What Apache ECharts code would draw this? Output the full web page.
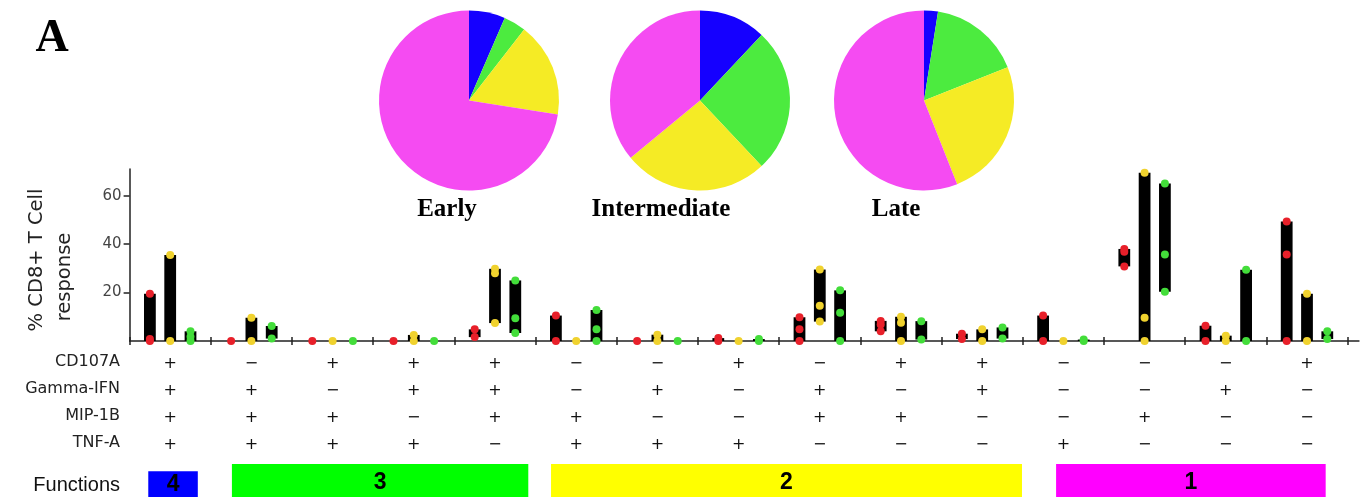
<!DOCTYPE html>
<html><head><meta charset="utf-8">
<script src="https://cdn.jsdelivr.net/npm/echarts@6/dist/echarts.min.js"></script>
<style>html,body{margin:0;padding:0;background:#fff}#c{width:1368px;height:501px}</style>
</head><body><div id="c"></div>
<script>
// ---------- data ----------
const markers = ['CD107A', 'Gamma-IFN', 'MIP-1B', 'TNF-A'];
const cd107a   = ['+','−','+','+','+','−','−','+','−','+','+','−','−','−','+'];
const gammaIFN = ['+','+','−','+','+','−','+','−','+','−','+','−','−','+','−'];
const mip1b    = ['+','+','+','−','+','+','−','−','+','+','−','−','+','−','−'];
const tnfa     = ['+','+','+','+','−','+','+','+','−','−','−','+','−','−','−'];

const timepoints = ['Early', 'Intermediate', 'Late'];
// individual responses per combination (15 combos)
const earlyDots = [[19.5,0.8,0],[0],[0],[0],[4.8,1.6],[10.5,0],[0],[1.2,0],[9.8,4.8,0],[8.3,6.8,4],[3,0.8],[10.5,0],[38,36.8,30.8],[6.3,0],[49.3,35.7,0]];
const intermediateDots = [[35.5,0],[9.6,0],[0],[2.5,0],[29.8,28,7.4],[0],[2.6,0],[0],[29.5,14.5,8],[10,7.5,0],[4.8,0],[0],[69.5,9.6,0],[2.2,0],[19.5,0]];
const lateDots = [[4,1.8,0],[6.2,1],[0],[0],[25,9.4,3.3],[12.8,4.8,0],[0],[0.8,0],[20.9,11.7,0],[8.2,0.6],[5.6,1],[0.6,0],[65,35.7,20.3],[29.4,0],[4,0.8]];

// pie fractions (4,3,2,1 functions) in percent
const pieEarly = [6.5, 4, 17, 72.5];
const pieIntermediate = [12, 26, 26, 36];
const pieLate = [2.5, 16.5, 25, 56];

const functionLabels = ['4','3','2','1'];
const functionGroups = [[0,1],[1,5],[5,11],[11,15]]; // combos covered
const yTickValues = [20, 40, 60];

// ---------- layout / style ----------
const PX_LEFT = 129.6, UNIT = 81.2, XMAX = 15.14;
const AXIS_Y = 341;
const FUNC_BOX = [[0.23,0.84,0.78],[1.26,4.91,1],[5.19,10.99,1],[11.41,14.73,1]]; // drawn extent in axis units, relative height
const funcColors = ['#0000ff','#00ff00','#ffff00','#ff00ff'];
const pieColors = ['#1500ff','#4ceb3f','#f5eb25','#f54bf2'];
const dotColors = ['#e8202a','#f0d22e','#43dd3a'];
const offsets = [-0.25, 0, 0.25];
const FONT = 'DejaVu Sans';

const signs = [cd107a, gammaIFN, mip1b, tnfa];
const tickVals = Array.from({length:16}, (_, i) => i);
const centerVals = Array.from({length:15}, (_, i) => i + 0.5);

function barSeries(dots, k) {
  const data = dots.map((d, i) => [i, Math.min(...d), Math.max(...d)]).filter(r => r[2] > r[1]);
  return {
    type: 'custom', xAxisIndex: 0, yAxisIndex: 0, silent: true, z: 2,
    data, encode: {x: 0, y: [1, 2]},
    renderItem(params, api) {
      const x = api.value(0) + 0.5 + offsets[k];
      const top = api.coord([x, api.value(2)]);
      const bot = api.coord([x, api.value(1)]);
      const w = api.size([1, 0])[0] * 0.145;
      return {type: 'rect', shape: {x: top[0] - w / 2, y: top[1], width: w, height: bot[1] - top[1]}, style: {fill: '#000'}};
    }
  };
}
function dotSeries(dots, k) {
  return {
    type: 'scatter', xAxisIndex: 0, yAxisIndex: 0, silent: true, z: 3,
    symbolSize: 8, itemStyle: {color: dotColors[k], opacity: 1},
    data: dots.flatMap((d, i) => d.map(v => [i + 0.5 + offsets[k], v]))
  };
}
function pieSeries(vals, cx) {
  return {
    type: 'pie', center: [cx, 100.5], radius: 90, silent: true, label: {show: false}, labelLine: {show: false},
    itemStyle: {borderWidth: 0}, startAngle: 90, clockwise: true,
    data: vals.map((v, j) => ({value: v, itemStyle: {color: pieColors[j]}}))
  };
}

const axisLine = {color: '#222', width: 1.5};
const option = {
  animation: false,
  backgroundColor: '#fff',
  grid: [
    {left: PX_LEFT, width: XMAX * UNIT, top: 169, height: AXIS_Y - 169},
    {left: PX_LEFT, width: XMAX * UNIT, top: 464, height: 33}
  ],
  xAxis: [
    {type: 'value', gridIndex: 0, position: 'bottom', min: 0, max: XMAX,
     axisLine: {show: true, lineStyle: axisLine},
     axisTick: {show: true, customValues: tickVals, length: 4, lineStyle: axisLine},
     axisLabel: {customValues: centerVals, margin: 9, lineHeight: 27, fontSize: 16, fontFamily: FONT, color: '#111',
       formatter: v => { const i = Math.floor(v); return signs.map(s => s[i]).join('\n'); }},
     splitLine: {show: false}},
    {type: 'value', gridIndex: 0, position: 'bottom', min: 0, max: XMAX,
     axisLine: {show: false},
     axisTick: {show: true, inside: true, customValues: tickVals, length: 4, lineStyle: axisLine},
     axisLabel: {show: false}, splitLine: {show: false}},
    {type: 'value', gridIndex: 1, min: 0, max: XMAX, show: false}
  ],
  yAxis: [
    {type: 'value', gridIndex: 0, min: 0, max: 71,
     axisLine: {show: true, lineStyle: axisLine},
     axisTick: {show: true, customValues: yTickValues, length: 6, lineStyle: axisLine},
     axisLabel: {customValues: yTickValues, margin: 8, fontSize: 15, fontFamily: FONT, color: '#444'},
     splitLine: {show: false}},
    {type: 'value', gridIndex: 1, min: 0, max: 1, show: false}
  ],
  series: [
    barSeries(earlyDots, 0), barSeries(intermediateDots, 1), barSeries(lateDots, 2),
    dotSeries(earlyDots, 0), dotSeries(intermediateDots, 1), dotSeries(lateDots, 2),
    pieSeries(pieEarly, 469), pieSeries(pieIntermediate, 700), pieSeries(pieLate, 924),
    {
      type: 'custom', xAxisIndex: 2, yAxisIndex: 1, silent: true,
      data: functionGroups.map((g, k) => [FUNC_BOX[k][0], FUNC_BOX[k][1], k]),
      encode: {x: [0, 1]},
      renderItem(params, api) {
        const k = api.value(2);
        const a = api.coord([api.value(0), FUNC_BOX[k][2]]);
        const b = api.coord([api.value(1), 0]);
        return {
          type: 'rect', shape: {x: a[0], y: a[1], width: b[0] - a[0], height: b[1] - a[1]},
          style: {fill: funcColors[k]},
          textContent: {style: {text: functionLabels[k], font: 'bold 23px "Liberation Sans"', fill: '#000'}},
          textConfig: {position: 'inside', offset: [0, k === 0 ? 1 : 2]}
        };
      }
    }
  ],
  graphic: [
    {type: 'text', x: 52, y: 39, style: {text: 'A', font: 'bold 46px "Liberation Serif"', fill: '#000', textAlign: 'center', textVerticalAlign: 'middle'}},
    {type: 'text', x: 447, y: 210, style: {text: timepoints[0], font: 'bold 25px "Liberation Serif"', fill: '#000', textAlign: 'center', textVerticalAlign: 'middle'}},
    {type: 'text', x: 661, y: 210, style: {text: timepoints[1], font: 'bold 25px "Liberation Serif"', fill: '#000', textAlign: 'center', textVerticalAlign: 'middle'}},
    {type: 'text', x: 896, y: 210, style: {text: timepoints[2], font: 'bold 25px "Liberation Serif"', fill: '#000', textAlign: 'center', textVerticalAlign: 'middle'}},
    {type: 'text', x: 37, y: 260, rotation: Math.PI / 2, style: {text: '% CD8+ T Cell', font: '19.5px "DejaVu Sans"', fill: '#222', textAlign: 'center', textVerticalAlign: 'middle'}},
    {type: 'text', x: 65, y: 277, rotation: Math.PI / 2, style: {text: 'response', font: '19.5px "DejaVu Sans"', fill: '#222', textAlign: 'center', textVerticalAlign: 'middle'}},
    ...markers.map((m, r) => ({type: 'text', x: 120, y: 362 + r * 27, style: {text: m, font: '16px "DejaVu Sans"', fill: '#222', textAlign: 'right', textVerticalAlign: 'middle'}})),
    {type: 'text', x: 120, y: 485, style: {text: 'Functions', font: '20px "Liberation Sans"', fill: '#111', textAlign: 'right', textVerticalAlign: 'middle'}}
  ]
};
echarts.init(document.getElementById('c'), null, {renderer: 'canvas'}).setOption(option);
</script>
</body></html>
